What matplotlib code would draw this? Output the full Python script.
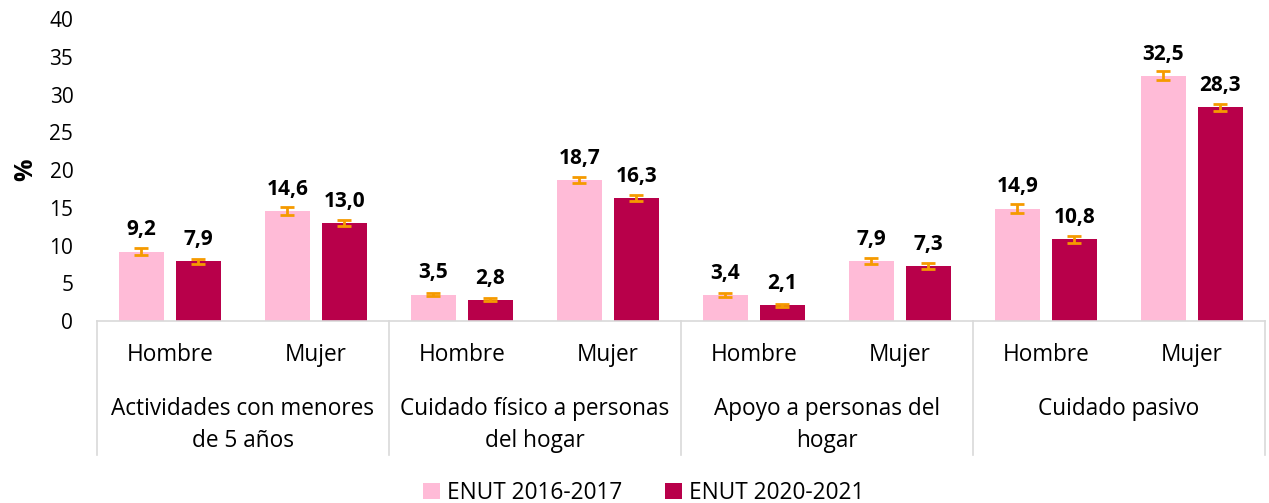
import matplotlib.pyplot as plt
import matplotlib.transforms as mtransforms
import numpy as np

plt.rcParams['font.family'] = ['Open Sans', 'DejaVu Sans']

sexo = ['Hombre', 'Mujer', 'Hombre', 'Mujer', 'Hombre', 'Mujer', 'Hombre', 'Mujer']
grupos = ['Actividades con menores\nde 5 años',
          'Cuidado físico a personas\ndel hogar',
          'Apoyo a personas del\nhogar',
          'Cuidado pasivo']
enut_2016 = [9.2, 14.6, 3.5, 18.7, 3.4, 7.9, 14.9, 32.5]
enut_2020 = [7.9, 13.0, 2.8, 16.3, 2.1, 7.3, 10.8, 28.3]
err_2016 = [0.45, 0.5, 0.25, 0.4, 0.25, 0.4, 0.55, 0.55]
err_2020 = [0.35, 0.4, 0.2, 0.35, 0.2, 0.4, 0.45, 0.5]
series = ['ENUT 2016-2017', 'ENUT 2020-2021']

PINK = '#FFBBD7'
WINE = '#B8004A'
ORANGE = '#F59A00'
GRID = '#D9D9D9'

fig = plt.figure(figsize=(12.69, 5.03), dpi=100)
ax = fig.add_axes([0.0764, 0.3618, 0.9204, 0.6004])

x = np.arange(len(sexo))
w = 0.31
off = 0.195

for xs, vals, errs, col, lab in [(x - off, enut_2016, err_2016, PINK, series[0]),
                                 (x + off, enut_2020, err_2020, WINE, series[1])]:
    ax.bar(xs, vals, width=w, color=col, label=lab, zorder=2)
    ax.errorbar(xs, vals, yerr=errs, fmt='none', ecolor=ORANGE,
                elinewidth=2, capsize=5, capthick=2, zorder=3)
    for xi, v in zip(xs, vals):
        ax.annotate(f'{v:.1f}'.replace('.', ','), (xi, v), xytext=(0, 8),
                    textcoords='offset points', ha='center', va='bottom',
                    fontsize=15, fontweight='bold')

ax.set_xlim(-0.5, len(sexo) - 0.5)
ax.set_ylim(0, 40)
ax.set_yticks(np.arange(0, 41, 5))
ax.tick_params(axis='y', length=0, labelsize=15, pad=17)
ax.set_xticks([])
for s in ['top', 'right', 'left']:
    ax.spines[s].set_visible(False)
ax.spines['bottom'].set_color(GRID)
ax.spines['bottom'].set_linewidth(1.2)

ax.set_ylabel('%', fontsize=18, fontweight='bold', labelpad=8)

# multi-level category axis
trans = mtransforms.blended_transform_factory(ax.transData, ax.transAxes)
for xi, s in zip(x, sexo):
    ax.text(xi, -0.113, s, transform=trans, ha='center', va='center',
            fontsize=16.3)
for i, g in enumerate(grupos):
    cx = 2 * i + 0.5
    for j, line in enumerate(g.split('\n')):
        ax.text(cx, -0.29 - j * 0.106, line, transform=trans, ha='center',
                va='center', fontsize=16.3)
for b in np.arange(-0.5, len(sexo), 2):
    ax.plot([b, b], [0, -0.444], transform=trans, color=GRID, lw=1.2,
            clip_on=False)

ax.legend(loc='lower center', bbox_to_anchor=(0.468, -0.677), ncol=2,
          frameon=False, fontsize=16.3, handlelength=0.75, handleheight=0.75,
          handletextpad=0.3, columnspacing=1.9)

fig.savefig('out.png', dpi=100)
